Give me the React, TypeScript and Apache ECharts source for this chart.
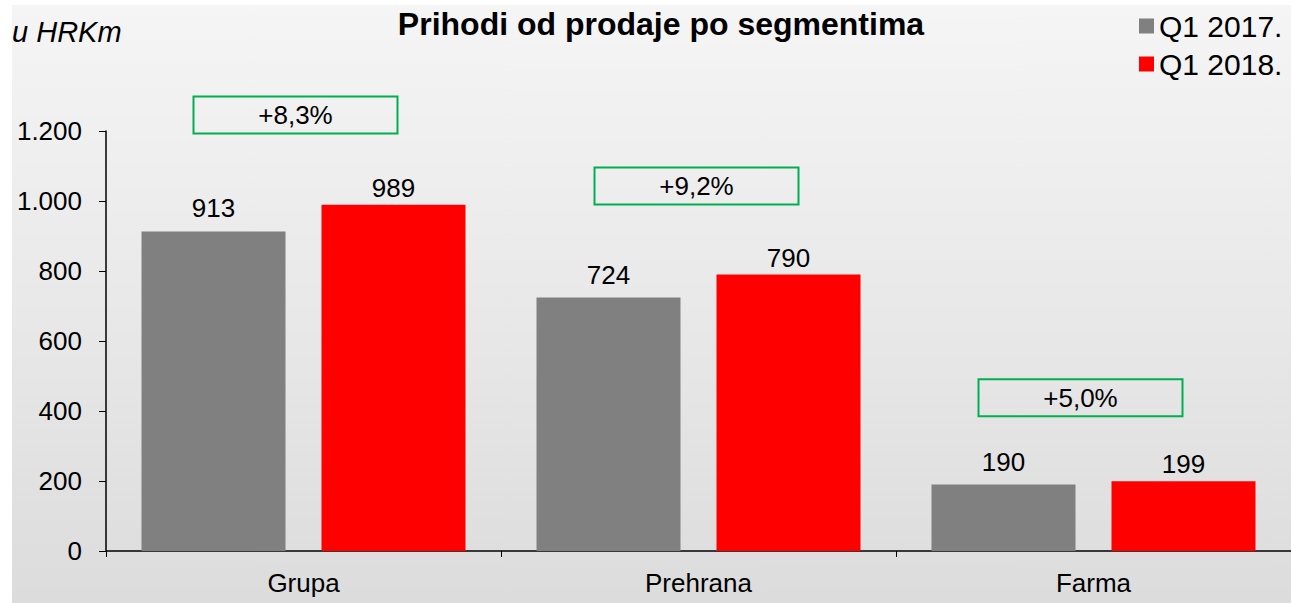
import React, { useEffect, useRef } from "react";
import * as echarts from "echarts";

const categories = ["Grupa", "Prehrana", "Farma"];
const q1_2017 = [913, 724, 190];
const q1_2018 = [989, 790, 199];
const growthLabels = ["+8,3%", "+9,2%", "+5,0%"];
const growthBoxLevel = [1246, 1043, 438];
const growthBoxShift = [-8, -2, -13];
const yTicks = [0, 200, 400, 600, 800, 1000, 1200];

const FONT = "Liberation Sans, Arial, sans-serif";

export default function App() {
  const ref = useRef<HTMLDivElement>(null);
  useEffect(() => {
    const chart = echarts.init(ref.current!, null, { renderer: "svg" });
    const fmt = (v: number) => {
      const s = String(Math.round(v));
      return s.replace(/\B(?=(\d{3})+(?!\d))/g, ".");
    };
    chart.setOption({
      animation: false,
      backgroundColor: "#ffffff",
      textStyle: { fontFamily: FONT },
      graphic: [
        {
          type: "rect",
          z: -10,
          silent: true,
          shape: { x: 12, y: 5, width: 1291 - 12, height: 603 - 5 },
          style: {
            fill: new echarts.graphic.LinearGradient(0, 0, 0, 1, [
              { offset: 0, color: "#f5f5f5" },
              { offset: 1, color: "#dcdcdc" },
            ]),
          },
        },
        {
          type: "text",
          left: 12,
          top: 17,
          style: {
            text: "u HRKm",
            font: `italic 29px ${FONT}`,
            fill: "#000",
          },
        },
      ],
      title: {
        text: "Prihodi od prodaje po segmentima",
        left: 656,
        textAlign: "center",
        top: 3,
        textStyle: { fontFamily: FONT, fontSize: 32, fontWeight: "bold", color: "#000" },
      },
      legend: {
        orient: "vertical",
        left: 1139,
        top: 11,
        padding: 0,
        itemWidth: 15,
        itemHeight: 15,
        itemGap: 8,
        icon: "rect",
        textStyle: { fontFamily: FONT, fontSize: 30, color: "#000" },
        data: ["Q1 2017.", "Q1 2018."],
      },
      grid: { left: 106, right: 0, top: 131, bottom: 52, containLabel: false },
      xAxis: {
        type: "category",
        data: categories,
        axisLine: { lineStyle: { color: "#000", width: 1.5 } },
        axisTick: { show: true, length: 6, lineStyle: { color: "#000" } },
        axisLabel: { fontFamily: FONT, fontSize: 26, color: "#000", margin: 19 },
      },
      yAxis: {
        type: "value",
        min: 0,
        max: yTicks[yTicks.length - 1],
        interval: 200,
        splitLine: { show: false },
        axisLine: { show: true, lineStyle: { color: "#000", width: 1.5 } },
        axisTick: { show: true, length: 7, lineStyle: { color: "#000" } },
        axisLabel: {
          fontFamily: FONT,
          fontSize: 26,
          color: "#000",
          margin: 24,
          formatter: (v: number) => fmt(v),
        },
      },
      series: [
        {
          name: "Q1 2017.",
          type: "bar",
          data: q1_2017,
          barWidth: 144,
          barGap: "25%",
          itemStyle: { color: "#808080" },
          label: {
            show: true,
            position: "top",
            distance: 10,
            fontFamily: FONT,
            fontSize: 26,
            color: "#000",
          },
        },
        {
          name: "Q1 2018.",
          type: "bar",
          data: q1_2018,
          barWidth: 144,
          barGap: "25%",
          itemStyle: { color: "#ff0000" },
          label: {
            show: true,
            position: "top",
            distance: 4,
            fontFamily: FONT,
            fontSize: 26,
            color: "#000",
          },
        },
        {
          name: "growth",
          type: "custom",
          z: 5,
          silent: true,
          data: categories.map((_, i) => [i, growthBoxLevel[i]]),
          renderItem: (params: any, api: any) => {
            const i = params.dataIndex;
            const c = api.coord([api.value(0), api.value(1)]);
            const cx = c[0] + growthBoxShift[i];
            const cy = c[1];
            return {
              type: "group",
              children: [
                {
                  type: "rect",
                  shape: { x: cx - 102, y: cy - 18.5, width: 204, height: 37 },
                  style: { fill: "none", stroke: "#00b050", lineWidth: 2 },
                },
                {
                  type: "text",
                  style: {
                    text: growthLabels[i],
                    x: cx,
                    y: cy,
                    align: "center",
                    verticalAlign: "middle",
                    font: `26px ${FONT}`,
                    fill: "#000",
                  },
                },
              ],
            };
          },
        },
      ],
    });
    return () => chart.dispose();
  }, []);
  return (
    <div
      ref={ref}
      style={{ position: "fixed", left: 0, top: 0, width: 1291, height: 603 }}
    />
  );
}
